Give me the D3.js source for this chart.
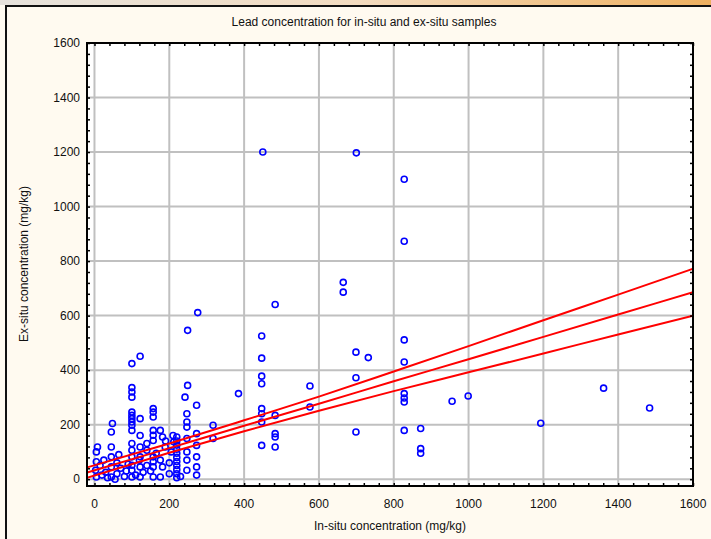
<!DOCTYPE html>
<html><head><meta charset="utf-8">
<script src="https://cdn.jsdelivr.net/npm/d3@7"></script>
<style>body{margin:0;background:#fff}svg{display:block}text{font-family:"Liberation Sans",Arial,sans-serif}</style>
</head><body>
<script>
const title = "Lead concentration for in-situ and ex-situ samples";
const xTitle = "In-situ concentration (mg/kg)";
const yTitle = "Ex-situ concentration (mg/kg)";
const xTicks = [0,200,400,600,800,1000,1200,1400,1600];
const yTicks = [0,200,400,600,800,1000,1200,1400,1600];

// scatter: in-situ (x) and ex-situ (y), mg/kg
const inSitu = [450,700,828,828,665,665,483,276,249,447,828,699,732,447,828,122,100,447,699,447,576,385,828,828,828,576,956,999,1361,1484,1193,699,828,872,872,872,483,483,483,483,447,447,447,447,
249,242,247,247,247,247,247,247,247,
273,273,273,273,273,273,317,317,
220,220,220,220,220,220,220,220,220,220,220,212,210,
176,182,189,176,182,176,
157,157,157,157,157,157,157,157,157,157,140,140,
122,122,122,122,122,122,
100,100,100,100,100,100,100,100,100,100,100,100,100,100,100,
48,45,45,45,45,45,
8,5,5,3,5,
20,30,60,70,80,15,25,60,85,35,55,65,90,110,130,140,150,200,200,205,190,230,165,120];
const exSitu = [1200,1197,1100,873,722,686,641,611,546,525,511,466,446,444,430,451,424,378,372,350,342,314,314,298,283,265,286,305,334,261,205,173,179,186,112,95,234,167,155,118,259,240,210,124,
344,301,240,210,191,149,100,70,33,
271,167,124,82,45,15,198,149,
155,140,125,110,95,80,65,50,35,20,5,137,160,
179,155,118,70,45,8,
259,246,228,179,161,142,82,64,45,8,131,106,
222,160,118,82,45,8,
336,320,301,246,234,222,210,198,179,131,106,82,51,33,8,
204,173,118,82,45,8,
118,100,64,33,8,
15,25,20,40,10,50,70,60,30,5,0,90,55,15,25,50,30,20,60,100,140,10,95,70];

// regression line and 95% confidence band, read at these in-situ values
const bandX = [-20,200,400,600,800,1000,1200,1400,1600];
const fitY = [24,114,196,277,359,440,522,604,686];
const upperY = [43,131,216,303,395,488,583,677,772];
const lowerY = [5,97,176,251,323,392,461,531,600];

const W = 711, H = 539;
const svg = d3.select("body").append("svg").attr("width", W).attr("height", H);
const defs = svg.append("defs");
const grad = defs.append("linearGradient").attr("id","topg").attr("x1","0").attr("x2","1");
grad.append("stop").attr("offset","0").attr("stop-color","#e6e2dc");
grad.append("stop").attr("offset","0.5").attr("stop-color","#f3dcc0");
grad.append("stop").attr("offset","1").attr("stop-color","#eeb060");
svg.append("rect").attr("width",W).attr("height",H).attr("fill","#fffaf0");
svg.append("rect").attr("width",W).attr("height",5).attr("fill","url(#topg)");
svg.append("line").attr("x1",5).attr("x2",W).attr("y1",6).attr("y2",6).attr("stroke","#111").attr("stroke-width",2);
svg.append("line").attr("x1",6).attr("x2",6).attr("y1",5).attr("y2",H).attr("stroke","#111").attr("stroke-width",2);

const L = 87, R = 693, T = 43, B = 486;
const x = d3.scaleLinear().domain([-20,1600]).range([L,R]);
const y = d3.scaleLinear().domain([-25,1600]).range([B,T]);

svg.append("rect").attr("x",L).attr("y",T).attr("width",R-L).attr("height",B-T).attr("fill","#fff");

const clip = defs.append("clipPath").attr("id","pc");
clip.append("rect").attr("x",L).attr("y",T).attr("width",R-L).attr("height",B-T);

// grid
const g = svg.append("g");
g.selectAll(".gx").data(xTicks).join("line")
  .attr("x1",d=>x(d)).attr("x2",d=>x(d)).attr("y1",T).attr("y2",B)
  .attr("stroke","#c0c0c0").attr("stroke-width",2);
g.selectAll(".gy").data(yTicks).join("line")
  .attr("y1",d=>y(d)).attr("y2",d=>y(d)).attr("x1",L).attr("x2",R)
  .attr("stroke","#c0c0c0").attr("stroke-width",2);

// points
const pts = inSitu.map((v,i)=>[v, exSitu[i]]);
svg.append("g").attr("clip-path","url(#pc)").selectAll("circle").data(pts).join("circle")
  .attr("cx",d=>x(d[0])).attr("cy",d=>y(d[1])).attr("r",3)
  .attr("fill","none").attr("stroke","#0000ff").attr("stroke-width",1.6);

// regression lines
const line = d3.line().x(d=>x(d[0])).y(d=>y(d[1])).curve(d3.curveMonotoneX);
const lg = svg.append("g").attr("clip-path","url(#pc)");
[fitY, upperY, lowerY].forEach(arr=>{
  lg.append("path").datum(bandX.map((v,i)=>[v,arr[i]])).attr("d",line)
    .attr("fill","none").attr("stroke","#ff0000").attr("stroke-width",2);
});

// axes with inward ticks
const minor = d3.range(-0, 1601, 40);
const minorY = d3.range(0, 1601, 40);
function tickAxis(axisGen, tr){
  return svg.append("g").attr("transform",tr).call(axisGen)
    .call(s=>s.select(".domain").remove()).call(s=>s.selectAll("text").remove())
    .call(s=>s.selectAll("line").attr("stroke","#000").attr("stroke-width",1.5));
}
tickAxis(d3.axisBottom(x).tickValues(minor).tickSize(-3).tickFormat(""), `translate(0,${B})`);
tickAxis(d3.axisTop(x).tickValues(minor).tickSize(-3).tickFormat(""), `translate(0,${T})`);
tickAxis(d3.axisLeft(y).tickValues(minorY).tickSize(-3).tickFormat(""), `translate(${L},0)`);
tickAxis(d3.axisRight(y).tickValues(minorY).tickSize(-3).tickFormat(""), `translate(${R},0)`);

svg.append("rect").attr("x",L).attr("y",T).attr("width",R-L).attr("height",B-T)
  .attr("fill","none").attr("stroke","#000").attr("stroke-width",2);

// labels
svg.append("g").selectAll("text").data(xTicks).join("text")
  .attr("x",d=>x(d)).attr("y",B+22).attr("text-anchor","middle")
  .attr("font-size",12).attr("fill","#111").text(d=>d);
svg.append("g").selectAll("text").data(yTicks).join("text")
  .attr("x",L-7).attr("y",d=>y(d)+4).attr("text-anchor","end")
  .attr("font-size",12).attr("fill","#111").text(d=>d);

svg.append("text").attr("x",364).attr("y",26).attr("text-anchor","middle")
  .attr("font-size",12).attr("fill","#111").text(title);
svg.append("text").attr("x",390).attr("y",530).attr("text-anchor","middle")
  .attr("font-size",12).attr("fill","#111").text(xTitle);
svg.append("text").attr("transform","translate(28,264) rotate(-90)").attr("text-anchor","middle")
  .attr("font-size",12).attr("fill","#111").text(yTitle);
</script>
</body></html>
